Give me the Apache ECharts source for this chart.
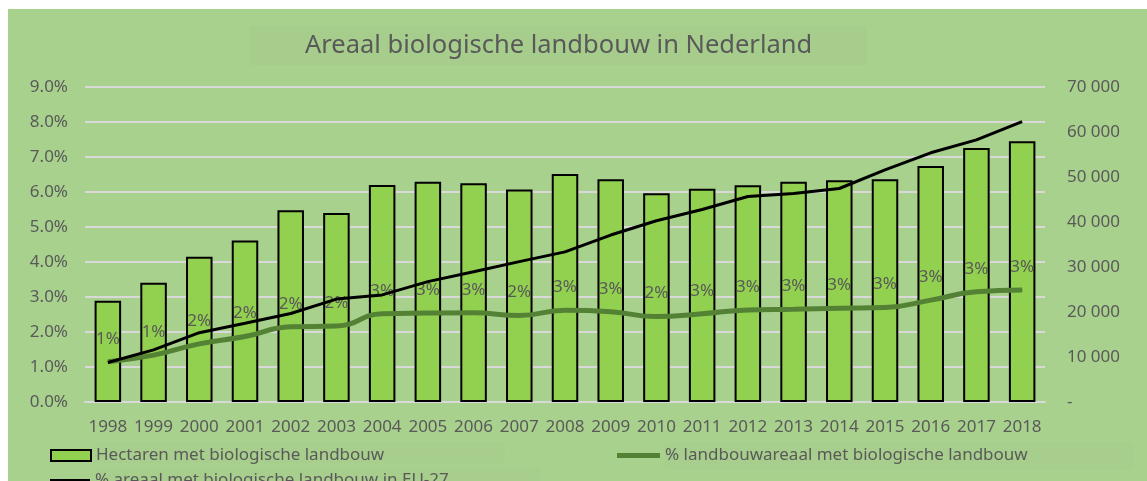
<!DOCTYPE html>
<html>
<head>
<meta charset="utf-8">
<script src="https://cdn.jsdelivr.net/npm/echarts@6/dist/echarts.min.js"></script>
<style>
  body { margin: 0; background: #fff; }
  #chart { width: 1147px; height: 481px; }
</style>
</head>
<body>
<div id="chart"></div>
<script>
// jaren en waarden
var jaren = ['1998', '1999', '2000', '2001', '2002', '2003', '2004', '2005', '2006', '2007',
    '2008', '2009', '2010', '2011', '2012', '2013', '2014', '2015', '2016', '2017', '2018'];
var hectaren = [22500, 26500, 32300, 35900, 42600, 42000, 48200, 48950, 48600, 47250,
    50670, 49480, 46370, 47400, 48150, 48950, 49260, 49480, 52440, 56440, 57930];
var pctNederland = [1.15, 1.34, 1.66, 1.87, 2.15, 2.17, 2.52, 2.54, 2.55, 2.47,
    2.62, 2.58, 2.44, 2.52, 2.63, 2.65, 2.68, 2.70, 2.91, 3.15, 3.20];
var pctEU = [1.13, 1.49, 1.98, 2.25, 2.53, 2.94, 3.06, 3.44, 3.72, 4.01,
    4.29, 4.77, 5.18, 5.50, 5.87, 5.96, 6.10, 6.63, 7.12, 7.49, 8.01];

var naamBar = 'Hectaren met biologische landbouw';
var naamNL = '% landbouwareaal met biologische landbouw';
var naamEU = '% areaal met biologische landbouw in EU-27';

var grijs = '#595959';
var font = 'Noto Sans';

var myChart = echarts.init(document.getElementById('chart'));

var option = {
    backgroundColor: '#fff',
    textStyle: { fontFamily: font },
    graphic: [
        { type: 'rect', z: -10, silent: true, shape: { x: 8, y: 9, width: 1139, height: 472 }, style: { fill: '#A9D18E' } },
        { type: 'rect', z: -9, silent: true, shape: { x: 95, y: 442, width: 410, height: 21 }, style: { fill: '#A7CE8C' } },
        { type: 'rect', z: -9, silent: true, shape: { x: 665, y: 442, width: 468, height: 28 }, style: { fill: '#A7CE8C' } },
        { type: 'rect', z: -9, silent: true, shape: { x: 95, y: 467, width: 445, height: 14 }, style: { fill: '#A7CE8C' } }
    ],
    title: {
        text: 'Areaal biologische landbouw in Nederland',
        left: 250,
        top: 26,
        padding: [6, 55],
        backgroundColor: '#A7CD8C',
        textStyle: { fontFamily: font, fontSize: 25.5, fontWeight: 'normal', color: grijs, lineHeight: 27 }
    },
    legend: [
        {
            data: [naamBar], left: 50, top: 447, padding: 0, icon: 'rect', itemWidth: 40, itemHeight: 11, itemGap: 6,
            textStyle: { fontFamily: font, fontSize: 17, color: grijs }
        },
        {
            data: [naamNL], left: 617, top: 447, padding: 0, icon: 'rect', itemWidth: 43, itemHeight: 5, itemGap: 6,
            textStyle: { fontFamily: font, fontSize: 17, color: grijs }
        },
        {
            data: [naamEU], left: 50, top: 472, padding: 0, icon: 'rect', itemWidth: 40, itemHeight: 3, itemGap: 6,
            textStyle: { fontFamily: font, fontSize: 17, color: grijs }
        }
    ],
    grid: { left: 85, right: 102, top: 87, bottom: 79 },
    xAxis: {
        type: 'category',
        data: jaren,
        axisLine: { lineStyle: { color: '#D9D9D9', width: 2 } },
        axisTick: { show: false },
        axisLabel: { color: grijs, fontSize: 17, fontFamily: font, margin: 17, interval: 0 }
    },
    yAxis: [
        {
            type: 'value', min: 0, max: 9, interval: 1,
            axisLabel: { color: grijs, fontSize: 17, fontFamily: font, margin: 17, formatter: function (v) { return v.toFixed(1) + '%'; } },
            splitLine: { lineStyle: { color: '#D9D9D9', width: 2 } }
        },
        {
            type: 'value', min: 0, max: 70000, interval: 10000,
            axisLabel: {
                color: grijs, fontSize: 17, fontFamily: font, margin: 22,
                formatter: function (v) {
                    if (v === 0) return '-';
                    return String(v).replace(/\B(?=(\d{3})+(?!\d))/g, ' ');
                }
            },
            splitLine: { show: false }
        }
    ],
    series: [
        {
            name: naamBar,
            type: 'bar',
            yAxisIndex: 1,
            data: hectaren,
            barWidth: '58%',
            itemStyle: { color: '#92D050', borderColor: '#000', borderWidth: 2 }
        },
        {
            name: naamNL,
            type: 'line',
            yAxisIndex: 0,
            data: pctNederland,
            smooth: true,
            symbol: 'circle',
            symbolSize: 1,
            showSymbol: true,
            z: 3,
            lineStyle: { color: '#548235', width: 5 },
            itemStyle: { color: '#548235' },
            label: {
                show: true, position: 'top', distance: 14,
                color: grijs, fontSize: 17, fontFamily: font,
                formatter: function (p) { return Math.round(p.value) + '%'; }
            }
        },
        {
            name: naamEU,
            type: 'line',
            yAxisIndex: 0,
            data: pctEU,
            symbol: 'none',
            z: 4,
            lineStyle: { color: '#000', width: 3 },
            itemStyle: { color: '#000' }
        }
    ]
};

myChart.setOption(option);
</script>
</body>
</html>
